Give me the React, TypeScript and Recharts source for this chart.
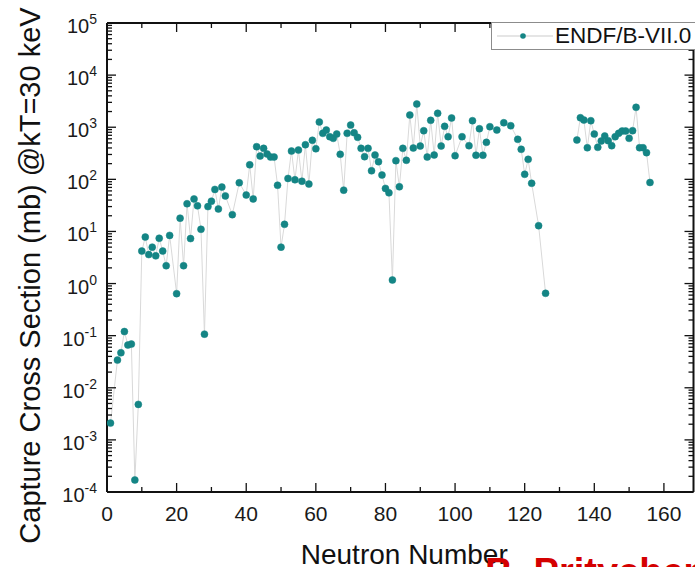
import React from 'react';
import { LineChart, Line, XAxis, YAxis, Legend } from 'recharts';

// Neutron number (N) and Maxwellian-averaged capture cross section (mb) @ kT=30 keV
const neutrons = [
  1, 3, 4, 5, 6, 7, 8, 9, 10, 11, 12, 13, 14, 15, 16, 17, 18, 20, 21, 22, 23, 24, 25, 26, 27, 28, 29, 30,
  31, 32, 33, 34, 36, 38, 40, 41, 42, 43, 44, 45, 46, 47, 48, 49, 50, 51, 52, 53, 54, 55, 56, 57, 58, 59, 60,
  61, 62, 63, 64, 65, 66, 67, 68, 69, 70, 71, 72, 73, 74, 75, 76, 77, 78, 79, 80, 81, 82, 83, 84, 85, 86, 87,
  88, 89, 90, 91, 92, 93, 94, 95, 96, 97, 98, 99, 100, 102, 104, 105, 106, 107, 108, 109, 110, 112, 114, 116,
  118, 119, 120, 121, 122, 124, 126, 130, 135, 136, 137, 138, 139, 140, 141, 142, 143, 144, 145, 146, 147, 148,
  149, 150, 151, 152, 153, 154, 155, 156,
];
const captureMb: (number | null)[] = [
  0.0021, 0.034, 0.047, 0.12, 0.066, 0.069, 0.00017, 0.0048, 4.2, 7.8, 3.6, 5.0, 3.4, 7.4, 4.2, 2.2, 8.4, 0.64,
  18, 2.2, 34, 7.3, 42, 31, 11, 0.107, 30, 38,
  64, 27, 71, 48, 21, 86, 50, 190, 42, 423, 280, 393, 306, 268, 268, 77, 5.0, 13.7, 104, 349, 98, 365, 92, 461,
  81, 561, 386,
  1260, 764, 883, 658, 612, 740, 302, 62, 764, 1100, 783, 640, 393, 272, 393, 146, 293, 218, 121, 67, 55, 1.17,
  228, 72, 393, 232, 1713,
  399, 2787, 435, 857, 268, 1356, 293, 1850, 435, 1040, 658, 1503, 284, 658, 442, 1334, 290, 936, 290, 513, 1023,
  883, 1219, 1069,
  586, 377, 125, 242, 84, 12.9, 0.65, null, 568, 1520, 1373, 404, 1334, 740, 411, 543, 678, 550, 442, 658, 764,
  845,
  845, 612, 857, 2410, 404, 404, 325, 87,
];
const seriesName = 'ENDF/B-VII.0';

const xMajorTicks = [0, 20, 40, 60, 80, 100, 120, 140, 160];
const xMinorTicks = [10, 30, 50, 70, 90, 110, 130, 150];
const xDomain: [number, number] = [0, 168.5];
const yDomain: [number, number] = [1e-4, 1e5];
const decades = [1e-4, 1e-3, 1e-2, 1e-1, 1e0, 1e1, 1e2, 1e3, 1e4, 1e5];
const minorMultipliers = [2, 3, 4, 5, 6, 7, 8, 9];
const yMinorTicks: number[] = [];
decades.slice(0, -1).forEach((d) => minorMultipliers.forEach((m) => yMinorTicks.push(m * d)));

const data = neutrons.map((n, i) => ({ n, v: captureMb[i] }));

const FONT = '"Liberation Sans", Arial, Helvetica, sans-serif';
const DOT = '#148585';
const AXIS = '#111';
const TICK_LINE = { stroke: AXIS, strokeWidth: 1.3 };
const NoLabel = () => <g />;

const BottomLabel = (props: any) => {
  const { x, y, payload } = props;
  return (
    <text x={x} y={y + 29} textAnchor="middle" fontSize={21} fill="#1a1a1a" fontFamily={FONT}>
      {payload.value}
    </text>
  );
};

const LeftLabel = (props: any) => {
  const { x, y, payload } = props;
  const exp = Math.round(Math.log10(payload.value));
  return (
    <text x={x - 10} y={y + 10} textAnchor="end" fontSize={20} fill="#1a1a1a" fontFamily={FONT}>
      <tspan>10</tspan>
      <tspan dy={-9} fontSize={14}>
        {exp < 0 ? '-' + Math.abs(exp) : String(exp)}
      </tspan>
    </text>
  );
};

const YTitle = (p: any) => {
  const vb = p.viewBox;
  const cx = vb.x + 40;
  const cy = vb.y + vb.height / 2 + 18;
  return (
    <text
      x={cx}
      y={cy}
      transform={`rotate(-90 ${cx} ${cy})`}
      textAnchor="middle"
      fontSize={29}
      fill="#111"
      fontFamily={FONT}
    >
      Capture Cross Section (mb) @kT=30 keV
    </text>
  );
};

const XTitle = (p: any) => {
  const vb = p.viewBox;
  return (
    <text x={vb.x + vb.width / 2 + 4} y={vb.y + 72} textAnchor="middle" fontSize={28} fill="#111" fontFamily={FONT}>
      Neutron Number
    </text>
  );
};

const LegendBox = (props: any) => {
  const entry = (props.payload || [])[0];
  return (
    <div
      style={{
        width: 230,
        height: 28,
        boxSizing: 'border-box',
        border: '1px solid #8c8c8c',
        background: '#fff',
        display: 'flex',
        alignItems: 'center',
        fontFamily: FONT,
        fontSize: 22.5,
        color: '#111',
        whiteSpace: 'nowrap',
      }}
    >
      <svg width={63} height={26} style={{ flex: 'none' }}>
        <line x1={5} x2={61} y1={13} y2={13} stroke="#dcdcdc" strokeWidth={1.5} />
        <circle cx={31} cy={13} r={2.8} fill={DOT} />
      </svg>
      <span>{entry ? entry.value : seriesName}</span>
    </div>
  );
};

export default function App() {
  return (
    <div
      style={{
        position: 'fixed',
        left: 0,
        top: 0,
        width: 695,
        height: 567,
        overflow: 'hidden',
        background: '#fff',
      }}
    >
      <LineChart width={695} height={567} data={data} margin={{ top: 22, right: 0.5, bottom: 0, left: 0 }}>
        {/* bottom axis: major ticks with labels */}
        <XAxis
          xAxisId="b"
          dataKey="n"
          type="number"
          domain={xDomain}
          ticks={xMajorTicks}
          interval={0}
          allowDataOverflow
          height={75}
          tickSize={-9}
          tickMargin={9}
          tickLine={TICK_LINE}
          axisLine={{ stroke: AXIS, strokeWidth: 2 }}
          tick={BottomLabel}
          label={XTitle}
        />
        {/* bottom axis: minor ticks (mirrored = drawn inside at the plot edge) */}
        <XAxis
          xAxisId="bm"
          dataKey="n"
          type="number"
          mirror
          domain={xDomain}
          ticks={xMinorTicks}
          interval={0}
          allowDataOverflow
          height={1}
          tickSize={5}
          tickMargin={0}
          tickLine={TICK_LINE}
          axisLine={false}
          tick={NoLabel}
        />
        {/* top axis */}
        <XAxis
          xAxisId="t"
          orientation="top"
          dataKey="n"
          type="number"
          domain={xDomain}
          ticks={xMajorTicks}
          interval={0}
          allowDataOverflow
          height={1}
          tickSize={-9}
          tickMargin={0}
          tickLine={TICK_LINE}
          axisLine={{ stroke: AXIS, strokeWidth: 2 }}
          tick={NoLabel}
        />
        <XAxis
          xAxisId="tm"
          orientation="top"
          mirror
          dataKey="n"
          type="number"
          domain={xDomain}
          ticks={xMinorTicks}
          interval={0}
          allowDataOverflow
          height={1}
          tickSize={5}
          tickMargin={0}
          tickLine={TICK_LINE}
          axisLine={false}
          tick={NoLabel}
        />
        {/* left axis */}
        <YAxis
          yAxisId="l"
          type="number"
          scale="log"
          domain={yDomain}
          ticks={decades}
          interval={0}
          allowDataOverflow
          width={107}
          tickSize={-9}
          tickMargin={9}
          tickLine={TICK_LINE}
          axisLine={{ stroke: AXIS, strokeWidth: 2 }}
          tick={LeftLabel}
          label={YTitle}
        />
        <YAxis
          yAxisId="lm"
          mirror
          type="number"
          scale="log"
          domain={yDomain}
          ticks={yMinorTicks}
          interval={0}
          allowDataOverflow
          width={1}
          tickSize={5}
          tickMargin={0}
          tickLine={TICK_LINE}
          axisLine={false}
          tick={NoLabel}
        />
        {/* right axis */}
        <YAxis
          yAxisId="r"
          orientation="right"
          type="number"
          scale="log"
          domain={yDomain}
          ticks={decades}
          interval={0}
          allowDataOverflow
          width={1}
          tickSize={-9}
          tickMargin={0}
          tickLine={TICK_LINE}
          axisLine={{ stroke: AXIS, strokeWidth: 2 }}
          tick={NoLabel}
        />
        <YAxis
          yAxisId="rm"
          orientation="right"
          mirror
          type="number"
          scale="log"
          domain={yDomain}
          ticks={yMinorTicks}
          interval={0}
          allowDataOverflow
          width={1}
          tickSize={5}
          tickMargin={0}
          tickLine={TICK_LINE}
          axisLine={false}
          tick={NoLabel}
        />
        <Legend
          layout="vertical"
          align="center"
          verticalAlign="middle"
          wrapperStyle={{ left: 491, top: 22, width: 230, height: 28 }}
          content={LegendBox}
        />
        <Line
          xAxisId="b"
          yAxisId="l"
          name={seriesName}
          dataKey="v"
          stroke="#d9d9d9"
          strokeWidth={1}
          connectNulls={false}
          dot={{ r: 3.5, fill: DOT, stroke: DOT, strokeWidth: 0.5 }}
          activeDot={false}
          isAnimationActive={false}
        />
      </LineChart>
      <div
        style={{
          position: 'absolute',
          left: 485,
          top: 553,
          fontFamily: FONT,
          fontSize: 38,
          lineHeight: '38px',
          fontWeight: 'bold',
          color: '#d40000',
          whiteSpace: 'nowrap',
        }}
      >
        B. Pritychenko
      </div>
    </div>
  );
}
